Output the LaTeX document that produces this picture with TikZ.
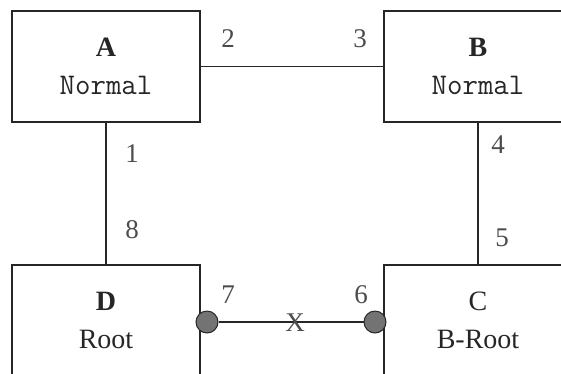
\documentclass[tikz,border=0pt]{standalone}
\usepackage{fontspec}
\setmainfont{Liberation Serif}

\tikzset{
  port/.style={draw=black!85,line width=1pt,circle,fill=black!55,inner sep=0pt,minimum size=22pt},
  bridge/.style={draw=black!85,line width=1.8pt,minimum width=188pt,minimum height=111pt,align=center,text=black!85,font=\fontsize{28}{38}\selectfont},
  link/.style={draw=black!85,line width=1.6pt},
  num/.style={text=black!70,font=\fontsize{27}{27}\selectfont,inner sep=0pt},
}

\begin{document}
\begin{tikzpicture}[x=1pt,y=-1pt]
		\useasboundingbox (0,0) rectangle (561,373);
		\node[bridge] (A) at (106,66.5) {\textbf{A}\\{\fontsize{30}{38}\selectfont\ttfamily Normal}};
		\node[bridge] (B) at (478,66.5) {\textbf{B}\\{\fontsize{30}{38}\selectfont\ttfamily Normal}};
		\node[bridge] (D) at (106,320.5) {\textbf{D}\\Root};
		\node[bridge] (C) at (478,320.5) {C\\B-Root};
		\draw[link] (A.east) -- (B.west);
		\draw[link] (A.south) -- (D.north);
		\draw[link] (B.south) -- (C.north);
		\node[port] (p7) at (207,322) {};
		\node[port] (p6) at (375,322) {};
		\draw[link] (p7) -- (p6);
		\node[num] (l1) at (132,154) {1};
		\node[num] (l2) at (228,39) {2};
		\node[num] (l3) at (360,39) {3};
		\node[num] (l4) at (498,145) {4};
		\node[num] (l5) at (502,238) {5};
		\node[num] (l6) at (361,295) {6};
		\node[num] (l7) at (228,295) {7};
		\node[num] (l8) at (132,230) {8};
		\node[num] (lx) at (295,323) {X};
	\end{tikzpicture}
\end{document}
